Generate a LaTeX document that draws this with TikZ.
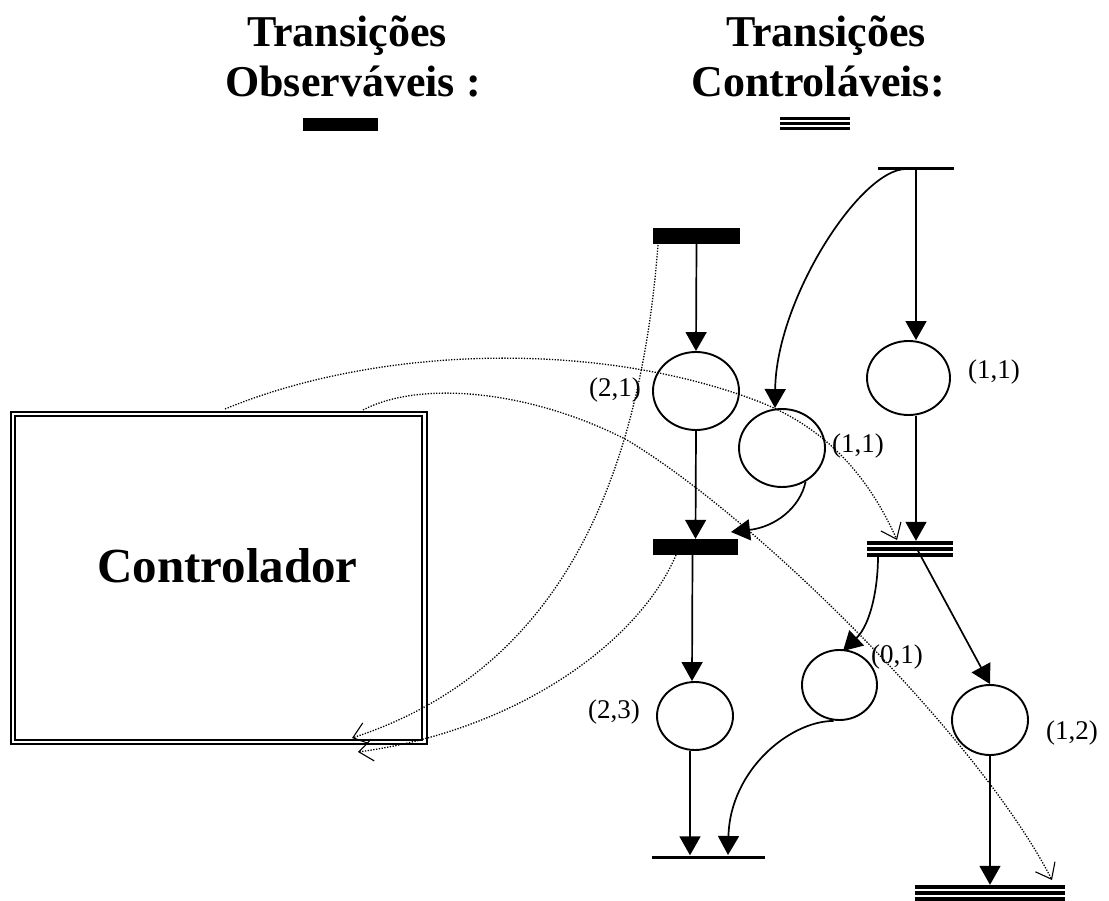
\documentclass[tikz,border=0pt]{standalone}
\usepackage{fontspec}
\setmainfont{Liberation Serif}
\usetikzlibrary{arrows.meta,shapes.geometric,calc}
\begin{document}
\begin{tikzpicture}[x=1pt,y=-1pt,
 place/.style={ellipse,draw,line width=1.9pt,inner sep=0pt},
 obsbar/.style={rectangle,fill=black,inner sep=0pt},
 ctrlbar/.style={rectangle,fill=black,inner sep=0pt,
   path picture={\draw[white,line width=2pt] ([yshift=-5pt]path picture bounding box.north west) -- ([yshift=-5pt]path picture bounding box.north east);
                 \draw[white,line width=2pt] ([yshift=5pt]path picture bounding box.south west) -- ([yshift=5pt]path picture bounding box.south east);}},
 ctrlsmall/.style={rectangle,fill=black,inner sep=0pt,
   path picture={\draw[white,line width=2pt] ([yshift=-4pt]path picture bounding box.north west) -- ([yshift=-4pt]path picture bounding box.north east);
                 \draw[white,line width=2pt] ([yshift=4pt]path picture bounding box.south west) -- ([yshift=4pt]path picture bounding box.south east);}},
 uncbar/.style={rectangle,fill=black,inner sep=0pt,minimum height=3pt},
 arc/.style={line width=1.7pt,-{Triangle[length=19pt,width=21pt]}},
 sig/.style={line width=1.3pt,dash pattern=on 1.3pt off 1.5pt,-{Straight Barb[length=14pt,width=22pt,line width=1.1pt]}},
 lbl/.style={font=\fontsize{27}{30}\selectfont,inner sep=0pt},
 ttl/.style={font=\fontsize{44}{50}\selectfont\bfseries,anchor=base,inner sep=0pt}]
\useasboundingbox (0,0) rectangle (1109,901);
\fill[white] (0,0) rectangle (1109,901);

% titles
\node[ttl] (t1a) at (347,47) {Transições};
\node[ttl] (t1b) at (353,97) {Observáveis :};
\node[ttl] (t2a) at (826,47) {Transições};
\node[ttl] (t2b) at (818,97) {Controláveis:};
\node[obsbar,minimum width=75pt,minimum height=13pt] (legobs) at (340.5,124.5) {};
\node[ctrlsmall,minimum width=70pt,minimum height=13pt] (legctrl) at (815,123.5) {};

% controller box
\draw[line width=1.9pt,double,double distance=2.3pt] (13,414) rectangle (424.5,742);
\node[font=\fontsize{49}{55}\selectfont\bfseries,anchor=base,inner sep=0pt] (ctrltext) at (227.5,582) {Controlador};

% transitions
\node[obsbar,minimum width=87pt,minimum height=16pt] (T1) at (696.5,236) {};
\node[uncbar,minimum width=76pt] (Ttop) at (916,169) {};
\node[obsbar,minimum width=85pt,minimum height=16pt] (T2) at (695.5,547) {};
\node[ctrlbar,minimum width=86pt,minimum height=16pt] (T3) at (910,549) {};
\node[uncbar,minimum width=113pt] (T4) at (708.5,857) {};
\node[ctrlbar,minimum width=150pt,minimum height=16pt] (T5) at (990,893) {};

% places
\node[place,minimum width=86pt,minimum height=78pt] (P21) at (696,391) {};
\node[place,minimum width=83pt,minimum height=74pt] (P11) at (908.5,378) {};
\node[place,minimum width=86pt,minimum height=78pt] (P11b) at (782,448) {};
\node[place,minimum width=76pt,minimum height=68pt] (P23) at (695,716) {};
\node[place,minimum width=75pt,minimum height=70pt] (P01) at (839.5,685) {};
\node[place,minimum width=76pt,minimum height=70pt] (P12) at (990,720) {};

% labels
\node[lbl,anchor=east] (l21) at (641,390) {(2,1)};
\node[lbl,anchor=west] (l11) at (968,372) {(1,1)};
\node[lbl,anchor=west] (l11b) at (832,446) {(1,1)};
\node[lbl,anchor=west] (l01) at (871,657) {(0,1)};
\node[lbl,anchor=east] (l23) at (640,712) {(2,3)};
\node[lbl,anchor=west] (l12) at (1046,733) {(1,2)};

% solid arcs
\draw[arc] (T1.south) -- (P21.north);
\draw[arc] (Ttop.center) -- (Ttop.center |- P11.north);
\draw[arc] ([xshift=-10pt]Ttop.center) .. controls (860,169) and (776,300) .. ([xshift=-7pt]P11b.north);
\draw[arc] (P11.south -| Ttop.center) -- (T3.north -| Ttop.center);
\draw[arc] (P21.south) -- (T2.north);
\coordinate (T2in) at (731,532);
\draw[arc] (P11b.-55) .. controls (800,508) and (775,527) .. (T2in);
\draw[arc] ([xshift=-3pt]T2.south) -- ([xshift=-3pt]P23.north);
\draw[arc] ([xshift=-5pt]P23.south) -- ([xshift=-5pt]P23.south |- T4.north);
\coordinate (T4in) at (728,855);
\draw[arc] ([xshift=-6pt]P01.south) .. controls (790,721) and (730,770) .. (T4in);
\coordinate (T3a) at (878,556);
\coordinate (P01in) at (843,651);
\draw[arc] (T3a) .. controls (878,590) and (870,625) .. (P01in);
\draw[arc] ([xshift=7pt]T3.center) -- (P12.north);
\draw[arc] (P12.south) -- (T5.north);

% signal (dotted) connections
\coordinate (d1s) at (225,409);
\coordinate (d1m) at (760,402);
\coordinate (d1e) at (897,540);
\draw[sig] (d1s) .. controls (380,345) and (600,340) .. (d1m) .. controls (830,430) and (870,480) .. (d1e);
\coordinate (d2s) at (363,410);
\coordinate (d2m) at (627,440);
\coordinate (d2e) at (1052,880);
\draw[sig] (d2s) .. controls (420,380) and (530,390) .. (d2m) .. controls (760,520) and (980,740) .. (d2e);
\coordinate (d3s) at (658,245);
\coordinate (d3e) at (352,738);
\draw[sig] (d3s) .. controls (640,480) and (560,670) .. (d3e);
\coordinate (d4s) at (676,555);
\coordinate (d4e) at (358,752);
\draw[sig] (d4s) .. controls (640,640) and (520,730) .. (d4e);
\end{tikzpicture}
\end{document}
